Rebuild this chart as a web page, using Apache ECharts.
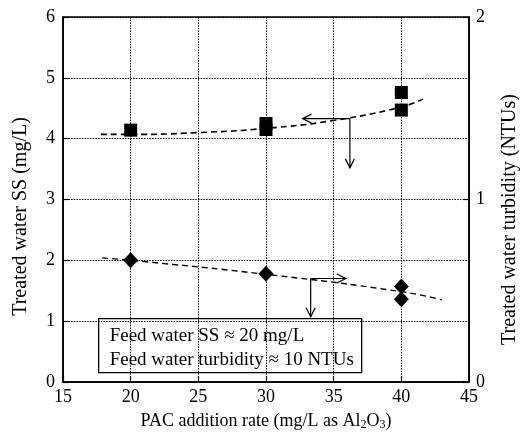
<!DOCTYPE html>
<html>
<head>
<meta charset="utf-8">
<script src="https://cdn.jsdelivr.net/npm/echarts@6/dist/echarts.min.js"></script>
<style>
  html, body { margin: 0; padding: 0; background: #fff; }
  #chart { width: 523px; height: 440px; }
</style>
</head>
<body>
<div id="chart"></div>
<script>
// PAC dose (mg/L as Al2O3)
const ssPoints = [[20, 4.14], [30, 4.25], [30, 4.15], [40, 4.76], [40, 4.47]];
const ssTrend = [[17.8, 4.07], [20, 4.07], [25, 4.1], [30, 4.17], [35, 4.3], [40, 4.52], [41.6, 4.65]];
const turbPoints = [[20, 0.667], [30, 0.593], [40, 0.523], [40, 0.453]];
const turbTrend = [[17.9, 0.68], [20, 0.667], [30, 0.59], [40, 0.495], [43, 0.45]];
// arrows: [fromX, fromY, toX, toY]
const ssArrows = [[36.2, 4.33, 32.7, 4.33], [36.2, 4.33, 36.2, 3.52]];
const turbArrows = [[33.3, 0.567, 35.9, 0.567], [33.3, 0.567, 33.3, 0.357]];
const noteLines = ['Feed water SS \u2248 20 mg/L', 'Feed water turbidity \u2248 10 NTUs'];

const font = 'Liberation Serif';
const chart = echarts.init(document.getElementById('chart'));

const arrowItem = (params, api) => {
  const p1 = api.coord([api.value(0), api.value(1)]);
  const p2 = api.coord([api.value(2), api.value(3)]);
  const ang = Math.atan2(p2[1] - p1[1], p2[0] - p1[0]);
  const len = 9, w = 4.5;
  const bx = p2[0] - len * Math.cos(ang), by = p2[1] - len * Math.sin(ang);
  const nx = -Math.sin(ang) * w, ny = Math.cos(ang) * w;
  const style = { stroke: '#000', lineWidth: 1.2, fill: null };
  return {
    type: 'group',
    children: [
      { type: 'line', shape: { x1: p1[0], y1: p1[1], x2: p2[0], y2: p2[1] }, style },
      { type: 'polyline', shape: { points: [[bx + nx, by + ny], p2, [bx - nx, by - ny]] }, style }
    ]
  };
};

const tickLabel = { fontFamily: font, fontSize: 18, color: '#000' };
const dotted = { color: '#000', width: 1, type: [1.5, 1.2] };

chart.setOption({
  animation: false,
  grid: {
    left: 63, right: 54, top: 17, bottom: 58, show: true, borderColor: '#000', borderWidth: 1.5,
    outerBoundsMode: 'none'
  },
  xAxis: {
    type: 'value', min: 15, max: 45, interval: 5,
    name: '{a|PAC addition rate (mg/L as Al}{s|2}{a|O}{s|3}{a|)}',
    nameLocation: 'middle', nameGap: 29,
    nameTextStyle: {
      rich: {
        a: { fontFamily: font, fontSize: 18, color: '#000', lineHeight: 20 },
        s: { fontFamily: font, fontSize: 12, color: '#000', lineHeight: 12, verticalAlign: 'bottom' }
      }
    },
    axisLine: { lineStyle: { color: '#000', width: 1.5 } },
    axisTick: { inside: true, length: 6, lineStyle: { color: '#000', width: 1.2 } },
    axisLabel: Object.assign({ margin: 6 }, tickLabel),
    splitLine: { show: true, lineStyle: dotted }
  },
  yAxis: [
    {
      type: 'value', min: 0, max: 6, interval: 1,
      name: 'Treated water SS (mg/L)', nameLocation: 'middle', nameGap: 32,
      nameTextStyle: { fontFamily: font, fontSize: 20, color: '#000', padding: [0, 34, 0, 0] },
      axisLine: { show: true, lineStyle: { color: '#000', width: 1.5 } },
      axisTick: { show: true, inside: true, length: 6, lineStyle: { color: '#000', width: 1.2 } },
      axisLabel: Object.assign({ margin: 8 }, tickLabel),
      splitLine: { show: true, lineStyle: dotted }
    },
    {
      type: 'value', min: 0, max: 2, interval: 1, position: 'right',
      name: 'Treated water turbidity (NTUs)', nameLocation: 'middle', nameGap: 31,
      nameRotate: 90,
      nameTextStyle: { fontFamily: font, fontSize: 20, color: '#000', padding: [0, 40, 0, 0] },
      axisLine: { show: true, lineStyle: { color: '#000', width: 1.5 } },
      axisTick: { show: true, inside: true, length: 6, lineStyle: { color: '#000', width: 1.2 } },
      axisLabel: Object.assign({ margin: 7 }, tickLabel),
      splitLine: { show: false }
    }
  ],
  series: [
    {
      type: 'line', data: ssTrend, smooth: true, showSymbol: false, yAxisIndex: 0, z: 2,
      lineStyle: { color: '#000', width: 1.6, type: [6, 4] }
    },
    {
      type: 'line', data: turbTrend, smooth: true, showSymbol: false, yAxisIndex: 1, z: 2,
      lineStyle: { color: '#000', width: 1.4, type: [6, 4] }
    },
    {
      type: 'scatter', data: ssPoints, yAxisIndex: 0, symbol: 'rect', symbolSize: 13, z: 3,
      itemStyle: { color: '#000', opacity: 1 }
    },
    {
      type: 'scatter', data: turbPoints, yAxisIndex: 1, symbol: 'diamond', symbolSize: [15, 16], z: 3,
      itemStyle: { color: '#000', opacity: 1 }
    },
    { type: 'custom', yAxisIndex: 0, data: ssArrows, renderItem: arrowItem, z: 4 },
    { type: 'custom', yAxisIndex: 1, data: turbArrows, renderItem: arrowItem, z: 4 }
  ],
  graphic: [
    {
      type: 'group', left: 98, top: 318, z: 10,
      children: [
        { type: 'rect', shape: { x: 0, y: 0, width: 263, height: 54 }, style: { fill: '#fff', stroke: '#000', lineWidth: 1.3 } },
        {
          type: 'text', x: 11, y: 5,
          style: { text: noteLines.join('\n'), fontFamily: font, fontSize: 19, lineHeight: 24, fill: '#000' }
        }
      ]
    }
  ]
});
</script>
</body>
</html>
